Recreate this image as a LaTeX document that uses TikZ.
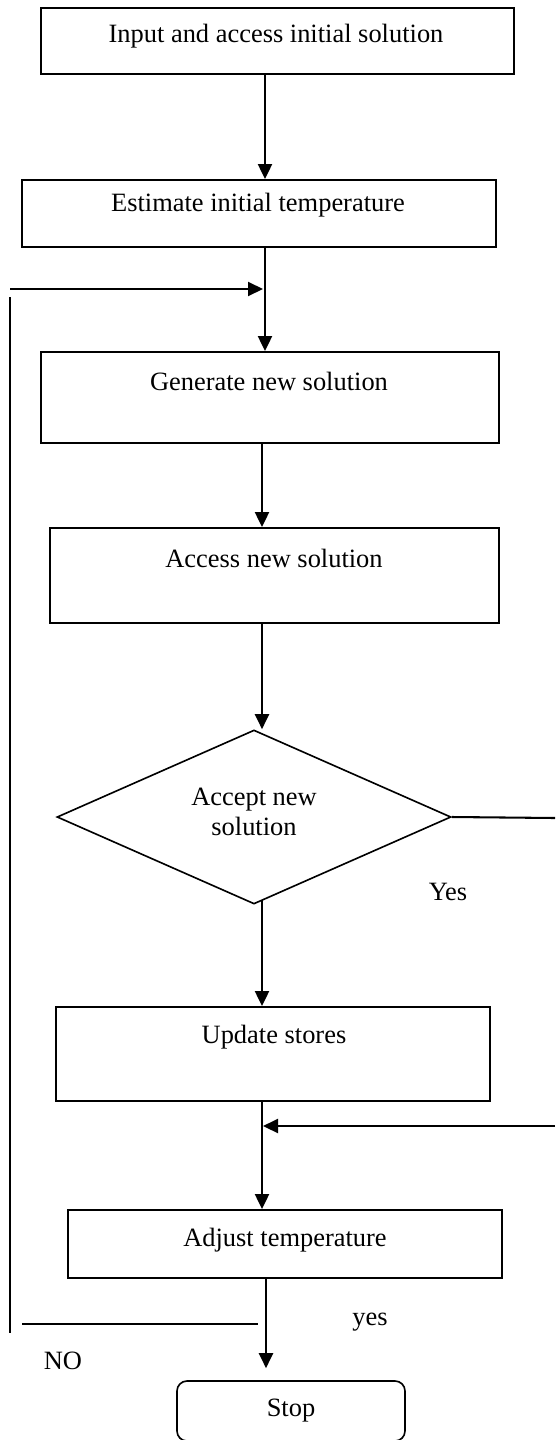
\documentclass[tikz,border=0pt]{standalone}
\usepackage{fontspec}
\setmainfont{Liberation Serif}
\usetikzlibrary{arrows.meta,shapes.geometric}
\def\u{0.4615pt}
\begin{document}
\begin{tikzpicture}[x=0.4615pt,y=-0.4615pt,
  every node/.style={font=\fontsize{12.2}{14.2}\selectfont, inner sep=0pt},
  box/.style={draw, line width=0.85pt, rectangle},
  dbox/.style={draw, line width=0.75pt, diamond},
  sbox/.style={draw, line width=0.75pt, rectangle, rounded corners=10*\u},
  arr/.style={draw, line width=0.95pt, -{Triangle[length=15*\u, width=14*\u]}},
  ln/.style={draw, line width=0.95pt}]
\useasboundingbox[fill=white] (0,0) rectangle (555,1440);

% boxes
\node[box, minimum width=473*\u, minimum height=66*\u] (b1) at (277.5,41) {};
\node[box, minimum width=474*\u, minimum height=67*\u] (b2) at (259,213.5) {};
\node[box, minimum width=458*\u, minimum height=91*\u] (b3) at (270,397.5) {};
\node[box, minimum width=449*\u, minimum height=95*\u] (b4) at (274.5,575.5) {};
\node[dbox, minimum width=394*\u, minimum height=174*\u] (dia) at (254,817) {};
\node[box, minimum width=434*\u, minimum height=94*\u] (b5) at (273,1054) {};
\node[box, minimum width=434*\u, minimum height=68*\u] (b6) at (285,1244) {};
\node[sbox, minimum width=228*\u, minimum height=60*\u] (stop) at (291,1411) {Stop};

% texts
\node (t1) at (276,36) {Input and access initial solution};
\node (t2) at (258,205) {Estimate initial temperature};
\node (t3) at (269,381) {Generate new solution};
\node (t4) at (274,558) {Access new solution};
\node[align=center] (t5) at (254,812) {Accept new\\solution};
\node (t6) at (274,1037) {Update stores};
\node (t7) at (285,1240) {Adjust temperature};
\node (lyes) at (448,892) {Yes};
\node (lyes2) at (370,1322) {yes};
\node (lno) at (63,1361) {NO};

% helper coordinates
\coordinate (mA) at (265,0);
\coordinate (mB) at (262,0);
\coordinate (mC) at (266,0);
\coordinate (lp1) at (10,289);
\coordinate (lp2) at (263,289);
\coordinate (lv1) at (10,297);
\coordinate (lv2) at (10,1333);
\coordinate (no1) at (22,1324);
\coordinate (no2) at (258,1324);
\coordinate (rt1) at (555,818);
\coordinate (rt2) at (555,1126);
\coordinate (rt3) at (263,1126);
\coordinate (d5) at (262,900);

% connectors
\draw[arr] (b1.south -| mA) -- (b2.north -| mA);
\draw[arr] (b2.south -| mA) -- (b3.north -| mA);
\draw[arr] (lp1) -- (lp2);
\draw[ln] (lv1) -- (lv2);
\draw[arr] (b3.south -| mB) -- (b4.north -| mB);
\draw[arr] (b4.south -| mB) -- (dia.north -| mB);
\draw[ln] (dia.east) -- (rt1);
\draw[arr] (d5) -- (b5.north -| mB);
\draw[arr] (rt2) -- (rt3);
\draw[arr] (b5.south -| mB) -- (b6.north -| mB);
\draw[arr, shorten >=12*\u] (b6.south -| mC) -- (stop.north -| mC);
\draw[ln] (no1) -- (no2);
\end{tikzpicture}
\end{document}
